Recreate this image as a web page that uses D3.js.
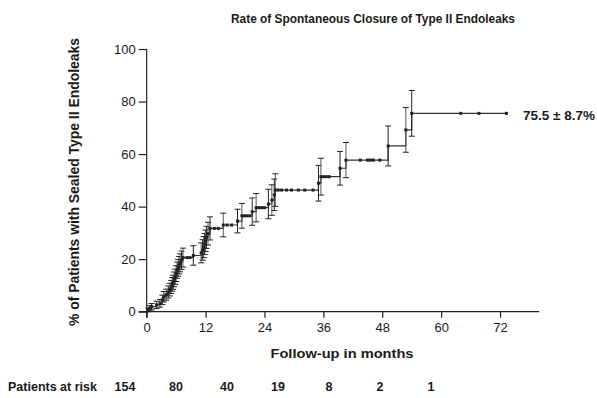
<!DOCTYPE html>
<html><head><meta charset="utf-8">
<script src="https://cdn.jsdelivr.net/npm/d3@7"></script>
<style>body{margin:0;background:#fff}svg{display:block}text{font-family:"Liberation Sans",Arial,sans-serif;fill:#1a1a1a}</style>
</head><body><svg id="c" width="597" height="398"></svg>
<script>
// Kaplan-Meier events: time (months), cumulative % sealed, +/- error
const eventTimes  = [0.3,0.6,1.0,2.0,2.7,3.2,3.5,4.0,4.4,4.7,5.0,5.2,5.4,5.6,5.8,6.0,6.2,6.4,6.6,6.8,7.1,7.4,9.5,11.1,11.4,11.6,11.8,12.0,12.2,12.5,12.9,15.6,18.5,19.4,21.5,22.3,24.8,25.5,26.0,26.2,35.0,35.5,39.4,40.6,49.2,52.8,54.0];
const eventValues = [0.7,1.3,1.9,2.6,3.2,4.5,5.7,6.5,7.5,8.4,9.4,10.4,11.2,12.3,13.3,14.5,15.8,16.7,17.7,18.6,19.6,20.6,21.4,22.4,23.5,24.6,25.8,27.0,28.3,29.7,31.7,33.0,34.5,36.5,38.1,39.6,41.0,42.5,44.5,46.3,48.9,51.4,54.6,57.7,63.1,69.2,75.5];
const eventErrors = [0.7,1.0,1.2,1.4,1.5,1.8,2.0,2.1,2.3,2.4,2.5,2.6,2.7,2.8,2.9,3.0,3.1,3.2,3.3,3.4,3.5,3.6,3.7,3.8,3.9,4.0,4.0,4.1,4.2,4.3,4.4,4.5,4.5,4.7,5.2,5.4,5.6,5.8,6.0,6.2,6.8,7.0,6.4,6.7,7.6,8.5,8.7];
const censorTimes = [8.2,8.8,13.8,14.6,16.4,17.3,19.9,20.4,21.0,22.8,23.4,24.0,26.8,27.5,28.5,29.5,30.9,32.2,33.9,36.0,36.6,37.2,43.5,45.0,45.6,46.2,47.5,64.0,67.7,73.3];
const followUpEnd = 73.3;
const xTicks = [0,12,24,36,48,60,72];
const yTicks = [0,20,40,60,80,100];
const atRisk = [154,80,40,19,8,2,1];
const titleText = "Rate of Spontaneous Closure of Type II Endoleaks";
const yLabel = "% of Patients with Sealed Type II Endoleaks";
const xLabel = "Follow-up in months";
const riskLabel = "Patients at risk";
const endLabel = "75.5 \u00b1 8.7%";

const svg = d3.select("#c");
const x = d3.scaleLinear().domain([0,80]).range([146.7,539.3]);
const y = d3.scaleLinear().domain([0,100]).range([311.7,49]);
const ink = "#222";

// axes
const gx = svg.append("g").attr("transform",`translate(0,${y(0)})`)
  .call(d3.axisBottom(x).tickValues(xTicks).tickSize(6).tickPadding(5).tickSizeOuter(0));
const gy = svg.append("g").attr("transform",`translate(${x(0)},0)`)
  .call(d3.axisLeft(y).tickValues(yTicks).tickSize(8).tickPadding(3).tickSizeOuter(0));
[gx,gy].forEach(g=>{
  g.selectAll("path,line").attr("stroke",ink).attr("stroke-width",1.2);
  g.selectAll("text").attr("font-size",13).style("font-family",'"Liberation Sans",Arial,sans-serif').attr("fill","#1a1a1a");
});
gx.select(".domain").attr("d",`M${x(0)-8},0H${x(80)}`);
gy.select(".domain").attr("d",`M0,${y(100)}V${y(0)+6}`);

// step path
let d = `M${x(0)},${y(0)}`;
eventTimes.forEach((t,i)=>{ d += `H${x(t)}V${y(eventValues[i])}`; });
d += `H${x(followUpEnd)}`;
svg.append("path").attr("d",d).attr("fill","none").attr("stroke","#333").attr("stroke-width",1.2);

// error bars
const cap = 3;
const eb = svg.append("g").attr("stroke",ink).attr("stroke-width",1);
eventTimes.forEach((t,i)=>{
  const cx = x(t), v = eventValues[i], e = eventErrors[i];
  const y1 = y(v+e), y2 = y(Math.max(0,v-e));
  eb.append("line").attr("x1",cx).attr("x2",cx).attr("y1",y1).attr("y2",y2).attr("stroke",i%2?"#555":ink);
  eb.append("line").attr("x1",cx-cap).attr("x2",cx+cap).attr("y1",y1).attr("y2",y1);
  eb.append("line").attr("x1",cx-cap).attr("x2",cx+cap).attr("y1",y2).attr("y2",y2);
});

// markers: events and censors
function valueAt(t){ let v=0; eventTimes.forEach((et,i)=>{ if(et<=t) v=eventValues[i]; }); return v; }
svg.append("g").selectAll("rect").data(eventTimes.map((t,i)=>[t,eventValues[i]]).concat(censorTimes.map(t=>[t,valueAt(t)])))
  .join("rect").attr("x",d=>x(d[0])-1.5).attr("y",d=>y(d[1])-1.5).attr("width",3).attr("height",3).attr("fill",ink);

// texts
svg.append("text").attr("x",373).attr("y",23).attr("text-anchor","middle").attr("font-size",13).attr("font-weight","bold")
  .attr("textLength",284).attr("lengthAdjust","spacingAndGlyphs").text(titleText);
svg.append("text").attr("transform",`translate(79,182) rotate(-90)`).attr("text-anchor","middle").attr("font-size",14).attr("font-weight","bold")
  .attr("textLength",288).attr("lengthAdjust","spacingAndGlyphs").text(yLabel);
svg.append("text").attr("x",342).attr("y",358).attr("text-anchor","middle").attr("font-size",13.5).attr("font-weight","bold")
  .attr("textLength",143).attr("lengthAdjust","spacingAndGlyphs").text(xLabel);
svg.append("text").attr("x",523).attr("y",120).attr("font-size",13.5).attr("font-weight","bold").text(endLabel);
svg.append("text").attr("x",8).attr("y",391).attr("font-size",12.5).attr("font-weight","bold").text(riskLabel);
const rx = d3.scalePoint().domain(atRisk.map((d,i)=>i)).range([125,431]);
svg.append("g").selectAll("text").data(atRisk).join("text")
  .attr("x",(d,i)=>rx(i)).attr("y",391).attr("text-anchor","middle").attr("font-size",12.5).attr("font-weight","bold").text(d=>d);
</script></body></html>
